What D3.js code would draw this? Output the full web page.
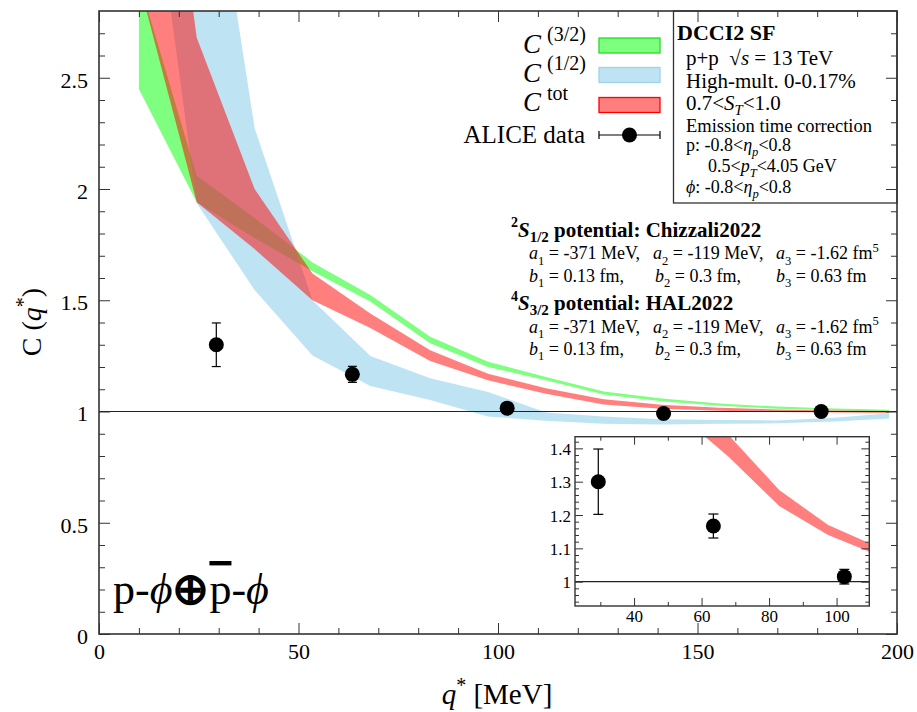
<!DOCTYPE html>
<html><head><meta charset="utf-8">
<script src="https://cdn.jsdelivr.net/npm/d3@7"></script>
<style>
body{margin:0;background:#fff;}
svg text{font-family:"Liberation Serif","Times New Roman",serif;fill:#000;white-space:pre;}
</style></head><body>
<svg id="chart" width="917" height="712"></svg>
<script>
// ---------- data ----------
const qNodes  = [10, 24.5, 39, 53.5, 68, 83, 97.5, 112, 126.5, 141, 155.5, 170, 184.5, 198];
const greenLo = [2.45, 1.94, 1.78, 1.63, 1.494, 1.307, 1.20, 1.14, 1.076, 1.046, 1.026, 1.012, 1.004, 1.0];
const greenHi = [2.94, 2.06, 1.87, 1.67, 1.524, 1.336, 1.224, 1.155, 1.09, 1.058, 1.036, 1.022, 1.013, 1.008];
const blueLo  = [3.86, 1.936, 1.546, 1.252, 1.115, 1.052, 0.978, 0.958, 0.945, 0.942, 0.945, 0.947, 0.955, 0.969];
const blueHi  = [5.7, 3.95, 2.274, 1.50, 1.249, 1.149, 1.088, 0.995, 0.977, 0.965, 0.962, 0.96, 0.972, 0.992];
const redLo   = [2.93, 1.94, 1.73, 1.50, 1.375, 1.227, 1.14, 1.08, 1.032, 1.012, 1.003, 0.998, 0.995, 0.993];
const redHi   = [4.6, 2.68, 2.0, 1.62, 1.44, 1.275, 1.17, 1.105, 1.055, 1.03, 1.017, 1.009, 1.004, 1.002];

const dataQ   = [29.4, 63.5, 102.3, 141.5, 181];
const dataC   = [1.30, 1.167, 1.015, 0.991, 1.0];
const dataErr = [0.098, 0.036, 0.022, 0.008, 0.008];

const xTicks = [0, 50, 100, 150, 200];
const yTicks = [0, 0.5, 1, 1.5, 2, 2.5];
const insetXTicks = [40, 60, 80, 100];
const insetYTicks = [1, 1.1, 1.2, 1.3, 1.4];

const legendLabels = ["(3/2)", "(1/2)", "tot"];
const bandColors = ["rgba(0,255,0,0.5)", "rgba(125,199,231,0.5)", "rgba(255,0,0,0.5)"];
const bandStrokes = ["#22dd22", "#9fd3ea", "#ff0000"];

// ---------- setup ----------
const svg = d3.select("#chart");
const P = {l: 99, r: 897, t: 11, b: 634};
const x = d3.scaleLinear([0, 200], [P.l, P.r]);
const y = d3.scaleLinear([0, 2.8], [P.b, P.t]);
const FR = "#333";

const defs = svg.append("defs");
defs.append("clipPath").attr("id", "clipMain").append("rect")
  .attr("x", P.l).attr("y", P.t).attr("width", P.r - P.l).attr("height", P.b - P.t);

function rich(sel, px, py, size, parts, extra) {
  const t = sel.append("text").attr("x", px).attr("y", py).attr("font-size", size)
    .attr("xml:space", "preserve");
  if (extra) extra(t);
  let shift = 0;
  parts.forEach(p => {
    const ts = t.append("tspan").text(p.t);
    const fs = p.size || ((p.sub || p.sup) ? size * 0.7 : size);
    ts.attr("font-size", fs);
    if (p.it) ts.attr("font-style", "italic");
    if (p.b) ts.attr("font-weight", "bold");
    if (p.over) ts.attr("text-decoration", "overline");
    const target = p.sub ? size * (p.subOff || 0.3) : p.sup ? -size * (p.supOff || 0.42) : 0;
    if (Math.abs(target - shift) > 1e-6) { ts.attr("dy", target - shift); shift = target; }
    if (p.dx) ts.attr("dx", p.dx);
  });
  return t;
}

const bandData = (lo, hi) => qNodes.map((q, i) => ({q, lo: lo[i], hi: hi[i]}));
const bands = [bandData(greenLo, greenHi), bandData(blueLo, blueHi), bandData(redLo, redHi)];

// ---------- bands ----------
const area = d3.area().x(d => x(d.q)).y0(d => y(d.lo)).y1(d => y(d.hi));
const gB = svg.append("g").attr("clip-path", "url(#clipMain)");
bands.forEach((b, i) => gB.append("path").datum(b).attr("d", area).attr("fill", bandColors[i]).attr("stroke", "none"));

// line at 1
svg.append("line").attr("x1", x(0)).attr("x2", x(200)).attr("y1", y(1)).attr("y2", y(1))
  .attr("stroke", "#222").attr("stroke-width", 1.2);

// data points
function drawPoints(g, xs, ys, r, cap) {
  const pts = dataQ.map((q, i) => ({q, c: dataC[i], e: dataErr[i]}))
    .filter(d => d.q >= xs.domain()[0] && d.q <= xs.domain()[1]);
  const pg = g.selectAll("g.pt").data(pts).join("g");
  pg.append("line").attr("x1", d => xs(d.q)).attr("x2", d => xs(d.q))
    .attr("y1", d => ys(d.c + d.e)).attr("y2", d => ys(d.c - d.e)).attr("stroke", "#000").attr("stroke-width", 1.2);
  [1, -1].forEach(s => pg.append("line").attr("x1", d => xs(d.q) - cap).attr("x2", d => xs(d.q) + cap)
    .attr("y1", d => ys(d.c + s * d.e)).attr("y2", d => ys(d.c + s * d.e)).attr("stroke", "#000").attr("stroke-width", 1.2));
  pg.append("circle").attr("cx", d => xs(d.q)).attr("cy", d => ys(d.c)).attr("r", r).attr("fill", "#000");
}
drawPoints(svg.append("g"), x, y, 7.5, 4.5);

// ---------- axes ----------
function styleAxis(g, fs) {
  g.select(".domain").remove();
  g.selectAll(".tick line").attr("stroke", FR).attr("stroke-width", 1);
  g.selectAll(".tick text").attr("font-size", fs).attr("font-family", '"Liberation Serif",serif').attr("fill", "#000");
}
const xMinor = d3.range(0, 201, 10).filter(d => d % 50 !== 0);
const yMinor = d3.range(0, 28).map(i => i / 10).filter(v => Math.round(v * 10) % 5 !== 0);
const fmt = d => String(d);

svg.append("g").attr("transform", `translate(0,${P.b})`)
  .call(d3.axisBottom(x).tickValues(xTicks).tickSizeInner(-11).tickSizeOuter(0).tickPadding(9).tickFormat(fmt))
  .call(g => styleAxis(g, 22));
svg.append("g").attr("transform", `translate(0,${P.b})`)
  .call(d3.axisBottom(x).tickValues(xMinor).tickSizeInner(-6).tickSizeOuter(0).tickFormat(""))
  .call(g => styleAxis(g, 22));
svg.append("g").attr("transform", `translate(0,${P.t})`)
  .call(d3.axisTop(x).tickValues(xTicks).tickSizeInner(-11).tickSizeOuter(0).tickFormat(""))
  .call(g => styleAxis(g, 22));
svg.append("g").attr("transform", `translate(0,${P.t})`)
  .call(d3.axisTop(x).tickValues(xMinor).tickSizeInner(-6).tickSizeOuter(0).tickFormat(""))
  .call(g => styleAxis(g, 22));
svg.append("g").attr("transform", `translate(${P.l},0)`)
  .call(d3.axisLeft(y).tickValues(yTicks).tickSizeInner(-11).tickSizeOuter(0).tickPadding(11).tickFormat(fmt))
  .call(g => styleAxis(g, 22))
  .call(g => g.selectAll(".tick text").attr("dy", "0.42em"));
svg.append("g").attr("transform", `translate(${P.l},0)`)
  .call(d3.axisLeft(y).tickValues(yMinor).tickSizeInner(-6).tickSizeOuter(0).tickFormat(""))
  .call(g => styleAxis(g, 22));
svg.append("g").attr("transform", `translate(${P.r},0)`)
  .call(d3.axisRight(y).tickValues(yTicks).tickSizeInner(-11).tickSizeOuter(0).tickFormat(""))
  .call(g => styleAxis(g, 22));
svg.append("g").attr("transform", `translate(${P.r},0)`)
  .call(d3.axisRight(y).tickValues(yMinor).tickSizeInner(-6).tickSizeOuter(0).tickFormat(""))
  .call(g => styleAxis(g, 22));

// ---------- info box & frame ----------
svg.append("rect").attr("x", 673.5).attr("y", P.t).attr("width", P.r - 673.5).attr("height", 192)
  .attr("fill", "none").attr("stroke", FR).attr("stroke-width", 1.3);
svg.append("rect").attr("x", P.l).attr("y", P.t).attr("width", P.r - P.l).attr("height", P.b - P.t)
  .attr("fill", "none").attr("stroke", FR).attr("stroke-width", 1.6);

rich(svg, 677, 40, 22, [{t: "DCCI2 SF", b: true}]);
rich(svg, 686, 65, 21, [{t: "p+p  √"}, {t: "s", it: true}, {t: " = 13 TeV"}]);
rich(svg, 686, 88, 21, [{t: "High-mult. 0-0.17%"}]);
rich(svg, 686, 110, 21, [{t: "0.7<"}, {t: "S", it: true}, {t: "T", it: true, sub: true, subOff: 0.25}, {t: "<1.0"}]);
rich(svg, 686, 132, 18.5, [{t: "Emission time correction"}]);
rich(svg, 686, 151, 18, [{t: "p: -0.8<"}, {t: "η", it: true}, {t: "p", it: true, sub: true}, {t: "<0.8"}]);
rich(svg, 708, 172, 18, [{t: "0.5<"}, {t: "p", it: true}, {t: "T", it: true, sub: true}, {t: "<4.05 GeV"}]);
rich(svg, 686, 193, 18, [{t: "ϕ", it: true}, {t: ": -0.8<"}, {t: "η", it: true}, {t: "p", it: true, sub: true}, {t: "<0.8"}]);

// ---------- legend ----------
const legY = [45.5, 75, 105];
const legBase = [52.7, 81.5, 111];
legendLabels.forEach((lab, i) => {
  svg.append("rect").attr("x", 599).attr("y", legY[i] - 7.5).attr("width", 61).attr("height", 15)
    .attr("fill", bandColors[i]).attr("stroke", bandStrokes[i]).attr("stroke-width", 1.3);
  rich(svg, 523, legBase[i], 27, [{t: "C", it: true}, {t: lab, sup: true, size: 20, supOff: 0.42, dx: 6}]);
});
svg.append("text").attr("x", 585).attr("y", 143).attr("font-size", 25).attr("text-anchor", "end").text("ALICE data");
svg.append("line").attr("x1", 599).attr("x2", 660).attr("y1", 135).attr("y2", 135).attr("stroke", "#000").attr("stroke-width", 1.2);
[599, 660].forEach(cx => svg.append("line").attr("x1", cx).attr("x2", cx).attr("y1", 131).attr("y2", 139).attr("stroke", "#000").attr("stroke-width", 1.2));
svg.append("circle").attr("cx", 629.5).attr("cy", 135).attr("r", 7.5).attr("fill", "#000");

// ---------- potential annotations ----------
const potHead = [
  {y: 236.7, ang: "2", sub: "1/2", name: " potential: Chizzali2022"},
  {y: 310, ang: "4", sub: "3/2", name: " potential: HAL2022"}
];
potHead.forEach(h => {
  rich(svg, 511, h.y, 21, [{t: h.ang, sup: true, size: 14, b: true, supOff: 0.45}, {t: "S", it: true, b: true},
    {t: h.sub, sub: true, size: 15, b: true, subOff: 0.26}, {t: h.name, b: true}]);
  const ay = h.y + 22.6, by = h.y + 45;
  rich(svg, 529, ay, 18, [{t: "a", it: true}, {t: "1", sub: true}, {t: " = -371 MeV,"}]);
  rich(svg, 653, ay, 18, [{t: "a", it: true}, {t: "2", sub: true}, {t: " = -119 MeV,"}]);
  rich(svg, 776, ay, 18, [{t: "a", it: true}, {t: "3", sub: true}, {t: " = -1.62 fm"}, {t: "5", sup: true, supOff: 0.4}]);
  rich(svg, 529, by, 18, [{t: "b", it: true}, {t: "1", sub: true}, {t: " = 0.13 fm,"}]);
  rich(svg, 655, by, 18, [{t: "b", it: true}, {t: "2", sub: true}, {t: " = 0.3 fm,"}]);
  rich(svg, 776, by, 18, [{t: "b", it: true}, {t: "3", sub: true}, {t: " = 0.63 fm"}]);
});

// ---------- axis titles ----------
rich(svg, 0, 0, 28, [{t: "C ("}, {t: "q", it: true}, {t: "*", sup: true, size: 20, supOff: 0.4}, {t: ")"}],
  t => t.attr("x", null).attr("y", null).attr("text-anchor", "middle").attr("transform", "translate(41,322) rotate(-90)"));
rich(svg, 497, 704, 29, [{t: "q", it: true}, {t: "*", sup: true, size: 20, supOff: 0.4}, {t: " [MeV]"}],
  t => t.attr("text-anchor", "middle"));

// system label
rich(svg, 113, 604, 44, [{t: "p-"}, {t: "ϕ", it: true}, {t: "⊕", b: true}, {t: "p", over: true}, {t: "-"}, {t: "ϕ", it: true}]);

// ---------- inset ----------
const I = {l: 575, r: 869.3, t: 436.7, b: 606};
const xi = d3.scaleLinear([22.5, 109.7], [I.l, I.r]);
const yi = d3.scaleLinear([0.927, 1.435], [I.b, I.t]);
defs.append("clipPath").attr("id", "clipInset").append("rect")
  .attr("x", I.l).attr("y", I.t).attr("width", I.r - I.l).attr("height", I.b - I.t);
const gi = svg.append("g");
gi.append("rect").attr("x", I.l).attr("y", I.t).attr("width", I.r - I.l).attr("height", I.b - I.t).attr("fill", "#fff");
const areaI = d3.area().x(d => xi(d.q)).y0(d => yi(d.lo)).y1(d => yi(d.hi));
gi.append("g").attr("clip-path", "url(#clipInset)").append("path").datum(bands[2])
  .attr("d", areaI).attr("fill", bandColors[2]);
gi.append("line").attr("x1", I.l).attr("x2", I.r).attr("y1", yi(1)).attr("y2", yi(1)).attr("stroke", "#222").attr("stroke-width", 1.2);
drawPoints(gi.append("g"), xi, yi, 7.5, 5);

const ixMinor = [30, 50, 70, 90];
const iyMinor = d3.range(47, 72).map(i => i / 50).filter(v => Math.round(v * 50) % 5 !== 0);
gi.append("g").attr("transform", `translate(0,${I.b})`)
  .call(d3.axisBottom(xi).tickValues(insetXTicks).tickSizeInner(-8).tickSizeOuter(0).tickPadding(4).tickFormat(fmt))
  .call(g => styleAxis(g, 17));
gi.append("g").attr("transform", `translate(0,${I.b})`)
  .call(d3.axisBottom(xi).tickValues(ixMinor).tickSizeInner(-4).tickSizeOuter(0).tickFormat(""))
  .call(g => styleAxis(g, 17));
gi.append("g").attr("transform", `translate(0,${I.t})`)
  .call(d3.axisTop(xi).tickValues(insetXTicks).tickSizeInner(-8).tickSizeOuter(0).tickFormat(""))
  .call(g => styleAxis(g, 17));
gi.append("g").attr("transform", `translate(0,${I.t})`)
  .call(d3.axisTop(xi).tickValues(ixMinor).tickSizeInner(-4).tickSizeOuter(0).tickFormat(""))
  .call(g => styleAxis(g, 17));
gi.append("g").attr("transform", `translate(${I.l},0)`)
  .call(d3.axisLeft(yi).tickValues(insetYTicks).tickSizeInner(-8).tickSizeOuter(0).tickPadding(4).tickFormat(fmt))
  .call(g => styleAxis(g, 17))
  .call(g => g.selectAll(".tick text").attr("dy", "0.36em"));
gi.append("g").attr("transform", `translate(${I.l},0)`)
  .call(d3.axisLeft(yi).tickValues(iyMinor).tickSizeInner(-4).tickSizeOuter(0).tickFormat(""))
  .call(g => styleAxis(g, 17));
gi.append("g").attr("transform", `translate(${I.r},0)`)
  .call(d3.axisRight(yi).tickValues(insetYTicks).tickSizeInner(-8).tickSizeOuter(0).tickFormat(""))
  .call(g => styleAxis(g, 17));
gi.append("g").attr("transform", `translate(${I.r},0)`)
  .call(d3.axisRight(yi).tickValues(iyMinor).tickSizeInner(-4).tickSizeOuter(0).tickFormat(""))
  .call(g => styleAxis(g, 17));
gi.append("rect").attr("x", I.l).attr("y", I.t).attr("width", I.r - I.l).attr("height", I.b - I.t)
  .attr("fill", "none").attr("stroke", FR).attr("stroke-width", 1.4);
</script>
</body></html>
